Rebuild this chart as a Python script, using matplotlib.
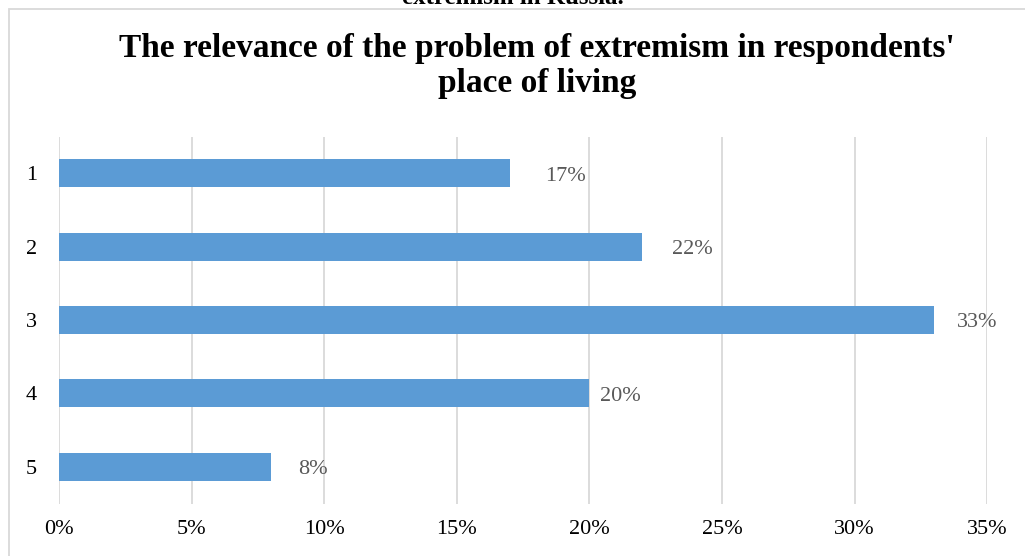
import matplotlib
matplotlib.use("Agg")
import matplotlib.pyplot as plt
from matplotlib.patches import Rectangle

plt.rcParams['font.family'] = ['Liberation Serif', 'DejaVu Serif']

# answers 1..5 and share of respondents (%)
categories = ['1', '2', '3', '4', '5']
shares = [17, 22, 33, 20, 8]
x_ticks = [0, 5, 10, 15, 20, 25, 30, 35]
title = "The relevance of the problem of extremism in respondents'\nplace of living"
caption_above = "extremism in Russia."

# how far each value label sits right of its bar, in pixels
label_pad = [35, 30, 23, 11, 27]

bar_color = '#5B9BD5'
grid_color = '#D9D9D9'

fig = plt.figure(figsize=(10.25, 5.56), dpi=100)
ax = fig.add_axes([0.0576, 0.0944, 0.9055, 0.660])

pos = list(range(len(categories)))
ax.barh(pos, shares, height=0.38, color=bar_color, zorder=3)

for p, v, pad in zip(pos, shares, label_pad):
    ax.annotate(f'{v}%', xy=(v, p), xytext=(pad * 0.72, -2),
                textcoords='offset points', va='center', ha='left',
                fontsize=16, color='#595959', zorder=4)

ax.set_xlim(0, 35)
ax.set_ylim(len(categories) - 0.5, -0.5)
ax.set_xticks(x_ticks)
ax.set_xticklabels([f'{t}%' for t in x_ticks], fontsize=16)
ax.set_yticks(pos)
ax.set_yticklabels(categories, fontsize=16)
ax.tick_params(axis='x', length=0, pad=12)
ax.tick_params(axis='y', length=0, pad=16)
ax.grid(axis='x', color=grid_color, linewidth=1.3, zorder=0)
for s in ax.spines.values():
    s.set_visible(False)

line1, line2 = title.split('\n')
fig.text(0.524, 1 - 57 / 556, line1, ha='center', va='baseline',
         fontsize=24, fontweight='bold')
fig.text(0.524, 1 - 92 / 556, line2, ha='center', va='baseline',
         fontsize=24, fontweight='bold')

# frame around the chart area
fig.patches.append(Rectangle((9 / 1025, -0.1), 1.2, 0.1 + 1 - 9 / 556,
                             transform=fig.transFigure, fill=False,
                             edgecolor=grid_color, linewidth=1.3))

# bottom of the preceding heading, cut off at the top edge
fig.text(0.5, 1.0 + 3 / 556, caption_above, ha='center', va='center',
         fontsize=18, fontweight='bold')

fig.savefig('out.png', dpi=100)
